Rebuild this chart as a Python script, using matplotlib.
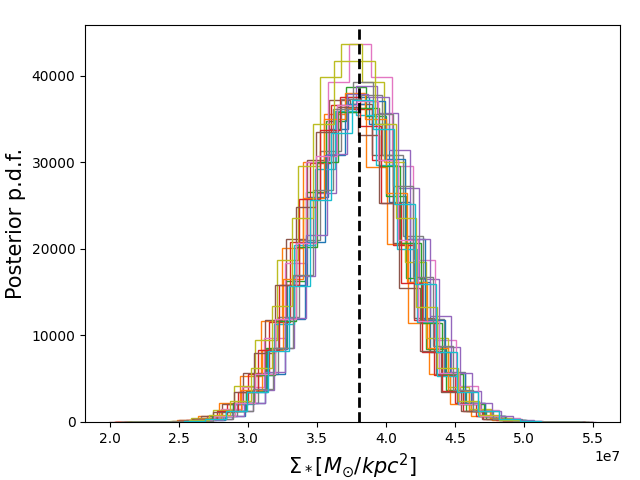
import numpy as np
import matplotlib
matplotlib.use("Agg")
from matplotlib import pyplot as plt

# left edge of first bin and bin width for every posterior (units of 1e7 Msun/kpc^2)
starts = [2.098, 2.028, 2.1125, 2.10, 2.135, 2.035, 2.0275, 2.17, 2.1225, 2.152,
          2.255, 2.05, 2.128, 2.038, 2.22, 1.995, 2.162, 2.1625, 2.12, 2.082]
widths = [0.148, 0.152, 0.145, 0.150, 0.150, 0.155, 0.155, 0.150, 0.155, 0.148,
          0.145, 0.150, 0.152, 0.148, 0.150, 0.150, 0.148, 0.145, 0.150, 0.152]

counts = [
    [1, 3, 21, 88, 371, 1215, 3490, 8402, 15870, 25940, 33810, 37520, 34390, 25410, 16170, 8120, 3602, 1206, 377, 84, 22, 3, 1],
    [2, 8, 35, 180, 640, 2130, 5330, 11690, 20110, 29980, 35620, 36310, 29410, 20590, 11380, 5520, 2060, 681, 166, 40, 6, 2],
    [1, 5, 18, 95, 366, 1290, 3580, 8560, 16290, 26610, 34780, 38720, 35310, 26110, 16580, 8390, 3670, 1248, 381, 89, 20, 3, 1],
    [2, 6, 39, 170, 688, 2085, 5530, 11510, 20790, 29870, 36590, 36120, 30310, 20380, 11790, 5390, 2150, 655, 181, 35, 8, 2],
    [1, 4, 22, 90, 385, 1262, 3710, 8490, 16810, 26470, 35760, 38810, 35720, 26980, 16510, 8690, 3610, 1305, 370, 97, 18, 4],
    [2, 7, 40, 172, 695, 2120, 5610, 11720, 21080, 30310, 37160, 36740, 30790, 20680, 11950, 5490, 2190, 668, 183, 36, 9, 2],
    [1, 5, 21, 108, 410, 1460, 4020, 9680, 18390, 30050, 39310, 43620, 39820, 29540, 18720, 9450, 4130, 1412, 430, 101, 23, 4],
    [2, 9, 36, 184, 676, 2215, 5590, 12140, 21010, 31290, 37310, 37750, 30810, 21470, 11880, 5710, 2160, 702, 176, 40, 7, 2],
    [4, 24, 99, 431, 1410, 4150, 9460, 18740, 29560, 39820, 43610, 39290, 30010, 18420, 9690, 4020, 1451, 415, 107, 21, 4],
    [2, 8, 35, 168, 672, 2050, 5420, 11310, 20390, 29260, 35880, 35470, 29710, 19980, 11560, 5310, 2110, 645, 176, 36, 7, 2],
    [2, 8, 37, 182, 671, 2180, 5510, 11940, 20750, 30780, 36720, 37110, 30330, 21120, 11720, 5600, 2130, 690, 174, 39, 8, 2],
    [1, 4, 20, 89, 378, 1240, 3640, 8310, 16480, 25920, 35010, 38010, 34950, 26390, 16170, 8520, 3550, 1280, 365, 94, 18, 5, 1],
    [2, 7, 36, 177, 652, 2130, 5370, 11680, 20230, 30050, 35820, 36270, 29600, 20620, 11430, 5480, 2080, 671, 170, 38, 7, 2],
    [1, 4, 18, 93, 355, 1250, 3470, 8290, 15760, 25790, 33700, 37480, 34160, 25320, 16060, 8130, 3540, 1215, 368, 88, 20, 4, 1],
    [2, 8, 41, 176, 710, 2170, 5730, 11960, 21560, 30950, 37930, 37480, 31410, 21120, 12210, 5610, 2230, 684, 185, 38, 8, 2],
    [1, 3, 19, 85, 362, 1190, 3490, 7960, 15810, 24830, 33540, 36420, 33090, 25290, 15480, 8140, 3400, 1223, 350, 90, 17, 4, 1],
    [2, 8, 37, 181, 668, 2175, 5490, 11920, 20670, 30700, 36610, 37020, 30240, 21050, 11690, 5600, 2120, 688, 174, 39, 8, 2],
    [1, 4, 21, 92, 390, 1280, 3750, 8570, 16990, 26750, 36110, 39230, 35620, 27210, 16690, 8760, 3660, 1318, 377, 97, 19, 4, 1],
    [2, 8, 43, 200, 765, 2430, 6270, 13340, 23570, 34450, 41650, 41720, 34400, 23590, 13300, 6260, 2440, 760, 198, 42, 9, 2],
    [1, 4, 18, 92, 351, 1240, 3430, 8230, 15650, 25580, 33430, 37150, 33890, 25120, 15930, 8060, 3510, 1205, 365, 87, 20, 4],
]

sigma_true = 3.8e7

fig, ax = plt.subplots(figsize=(6.4, 4.8), dpi=100)
for x0, bw, c in zip(starts, widths, counts):
    edges = (x0 + bw * np.arange(len(c) + 1)) * 1e7
    ax.hist(edges[:-1], bins=edges, weights=c, histtype="step")

ax.axvline(sigma_true, color="k", ls="--", lw=2)
ax.set_xlabel(r"$\Sigma_*[M_{\odot}/kpc^2]$", fontsize=15)
ax.set_ylabel("Posterior p.d.f.", fontsize=15)
plt.subplots_adjust(left=0.133, right=0.969, bottom=0.121, top=0.947)
plt.savefig("out.png")
